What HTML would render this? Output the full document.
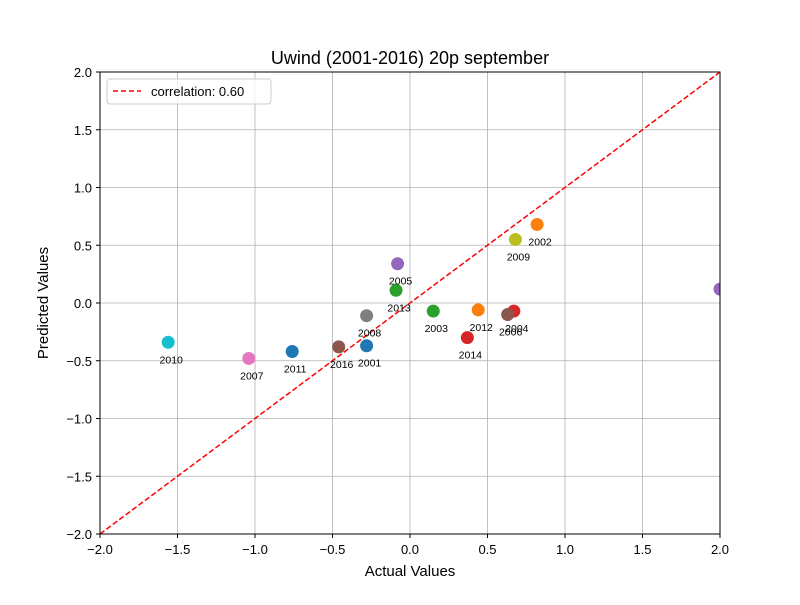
<!DOCTYPE html>
<html><head><meta charset="utf-8"><style>body{margin:0;background:#fff}svg{font-family:"Liberation Sans","DejaVu Sans",sans-serif}</style></head>
<body>
<svg id="chart" width="800" height="600">
<defs><clipPath id="clip"><rect x="100" y="72" width="620" height="462"/></clipPath></defs>
<rect width="800" height="600" fill="#fff"/>
<g id="grid"></g>
<g id="axes"></g>
<g id="marks" clip-path="url(#clip)"></g>
<g id="labels"></g>
<rect x="100" y="72" width="620" height="462" fill="none" stroke="#000" stroke-width="1"/>
<text x="410" y="64" text-anchor="middle" font-size="18">Uwind (2001-2016) 20p september</text>
<text x="410" y="576" text-anchor="middle" font-size="15">Actual Values</text>
<text x="48" y="303" text-anchor="middle" font-size="15" transform="rotate(-90 48 303)">Predicted Values</text>
<g>
<rect x="107" y="79" width="164" height="25" rx="3" fill="#fff" fill-opacity="0.8" stroke="#ccc"/>
<line x1="113" y1="91" x2="141" y2="91" stroke="red" stroke-width="1.5" stroke-dasharray="5,3"/>
<text x="151" y="96" font-size="13">correlation: 0.60</text>
</g>
</svg>
<script>
const years=["2001","2002","2003","2004","2005","2006","2007","2008","2009","2010","2011","2012","2013","2014","2015","2016"];
const actual=[-0.28,0.82,0.15,0.67,-0.08,0.63,-1.04,-0.28,0.68,-1.56,-0.76,0.44,-0.09,0.37,2.0,-0.46];
const predicted=[-0.37,0.68,-0.07,-0.07,0.34,-0.10,-0.48,-0.11,0.55,-0.34,-0.42,-0.06,0.11,-0.30,0.12,-0.38];
const ticks=[-2.0,-1.5,-1.0,-0.5,0.0,0.5,1.0,1.5,2.0];
const colors=["#1f77b4","#ff7f0e","#2ca02c","#d62728","#9467bd","#8c564b","#e377c2","#7f7f7f","#bcbd22","#17becf"];
const NS="http://www.w3.org/2000/svg";
const X=v=>410+v*155, Y=v=>303-v*115.5;
function mk(p,t,a){const e=document.createElementNS(NS,t);for(const k in a)e.setAttribute(k,a[k]);p.appendChild(e);return e;}
const grid=document.getElementById('grid'),axes=document.getElementById('axes'),marks=document.getElementById('marks'),labels=document.getElementById('labels');
ticks.forEach(t=>{
 let g=mk(grid,'line',{x1:X(t),x2:X(t),y1:72,y2:534,stroke:'#b0b0b0','stroke-width':0.8});
 
 g=mk(grid,'line',{x1:100,x2:720,y1:Y(t),y2:Y(t),stroke:'#b0b0b0','stroke-width':0.8});
 
 mk(axes,'line',{x1:X(t),x2:X(t),y1:534,y2:538,stroke:'#000'});
 mk(axes,'line',{x1:96,x2:100,y1:Y(t),y2:Y(t),stroke:'#000'});
 let tx=mk(axes,'text',{x:X(t),y:554,'text-anchor':'middle','font-size':13});tx.textContent=t.toFixed(1).replace('-','−');
 
 tx=mk(axes,'text',{x:92,y:Y(t)+5,'text-anchor':'end','font-size':13});tx.textContent=t.toFixed(1).replace('-','−');
 
});
const ln=mk(marks,'line',{x1:X(-2),y1:Y(-2),x2:X(2),y2:Y(2),stroke:'red','stroke-width':1.5,'stroke-dasharray':'5.5,2.5'});

years.forEach((yr,i)=>{
 const c=mk(marks,'circle',{cx:X(actual[i]),cy:Y(predicted[i]),r:6.5,fill:colors[i%10]});
 
 const tx=X(actual[i])+3, ty=Y(predicted[i])+21;
 if(tx<715){const t=mk(labels,'text',{x:tx,y:ty,'text-anchor':'middle','font-size':10.5});t.textContent=yr;
 }
});
</script>
</body></html>
